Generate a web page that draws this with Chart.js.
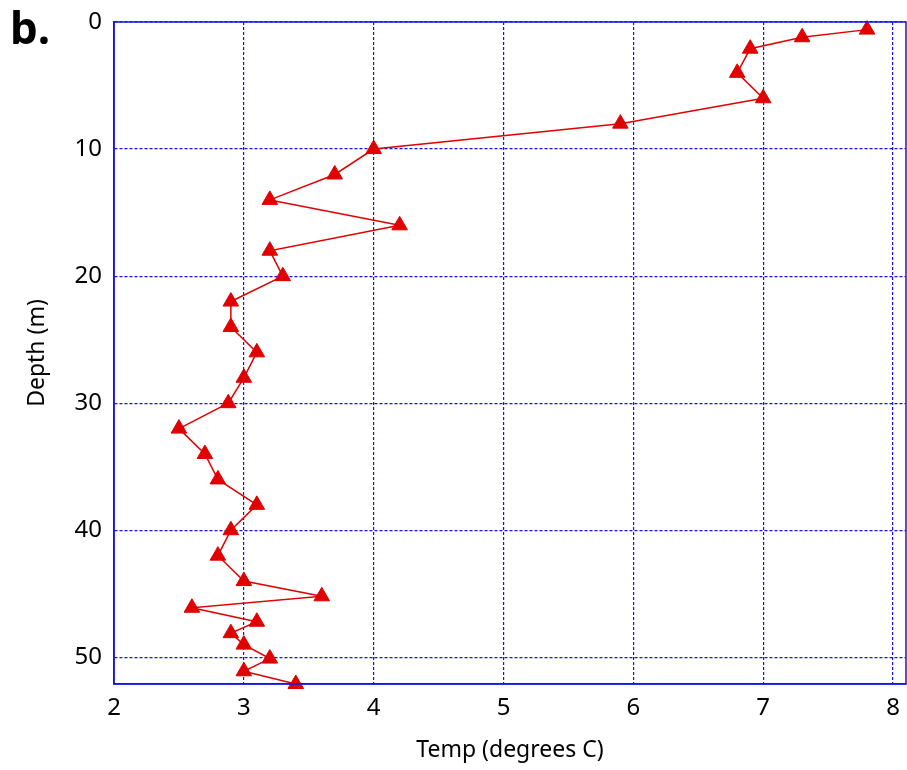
<!DOCTYPE html>
<html>
<head>
<meta charset="utf-8">
<script src="https://cdn.jsdelivr.net/npm/chart.js@4"></script>
<style>
  html, body { margin: 0; padding: 0; background: #fff; overflow: hidden; }
  #wrap { width: 907px; height: 770px; }
</style>
</head>
<body>
<div id="wrap"><canvas id="tempChart"></canvas></div>
<script>
// Temperature profile data
var temp_values = [7.8, 7.3, 6.9, 6.8, 7.0, 5.9, 4.0, 3.7, 3.2, 4.2, 3.2, 3.3, 2.9, 2.9, 3.1, 3.0,
                   2.88, 2.5, 2.7, 2.8, 3.1, 2.9, 2.8, 3.0, 3.6, 2.6, 3.1, 2.9, 3.0, 3.2, 3.0, 3.4];
var depth_values = [0.6, 1.2, 2.1, 4, 6, 8, 10, 12, 14, 16, 18, 20, 22, 24, 26, 28,
                    30, 32, 34, 36, 38, 40, 42, 44, 45.2, 46.1, 47.2, 48.1, 49, 50.1, 51.1, 52.1];
var x_ticks = [2, 3, 4, 5, 6, 7, 8];
var y_ticks = [0, 10, 20, 30, 40, 50];

var points = temp_values.map(function(t, i) { return { x: t, y: depth_values[i] }; });

var blue = '#1414e6';
var red = '#e00000';
var font = "'Noto Sans', sans-serif";

// Frame + panel letter
var framePlugin = {
    id: 'frame',
    afterDraw: function(chart) {
        var c = chart.ctx, a = chart.chartArea;
        c.save();
        c.strokeStyle = blue;
        c.lineWidth = 1.5;
        c.setLineDash([]);
        c.strokeRect(a.left, a.top, a.right - a.left, a.bottom - a.top);
        c.fillStyle = '#000';
        c.font = "bold 44px " + font;
        c.textBaseline = 'alphabetic';
        c.fillText('b.', 10, 44);
        c.restore();
    }
};

var ctx = document.getElementById("tempChart");
var myChart = new Chart(ctx, {
    type: 'scatter',
    data: {
        datasets: [{
            label: "Temp",
            data: points,
            showLine: true,
            clip: false,
            borderColor: red,
            borderWidth: 1.5,
            backgroundColor: red,
            pointStyle: 'triangle',
            pointRadius: 9,
            pointBorderWidth: 1,
            pointBackgroundColor: red,
            pointBorderColor: red
        }]
    },
    options: {
        responsive: true,
        maintainAspectRatio: false,
        animation: false,
        layout: { autoPadding: false, padding: { top: 22, right: 1, left: 0, bottom: 0 } },
        scales: {
            x: {
                type: 'linear',
                min: 2,
                max: 8.1,
                afterBuildTicks: function(axis) {
                    axis.ticks = x_ticks.map(function(v) { return { value: v }; });
                },
                afterFit: function(axis) {
                    axis.height = 86;
                    axis.paddingLeft = 0;
                    axis.paddingRight = 0;
                },
                grid: {
                    color: blue,
                    lineWidth: 1.2,
                    drawTicks: false
                },
                border: { display: true, color: blue, width: 1.5, dash: [3, 2] },
                ticks: {
                    color: '#000',
                    font: { family: font, size: 24 },
                    padding: 10,
                    maxRotation: 0
                },
                title: {
                    display: true,
                    text: 'Temp (degrees C)',
                    color: '#000',
                    font: { family: font, size: 23 },
                    padding: { top: 0, bottom: 6 }
                }
            },
            y: {
                type: 'linear',
                reverse: true,
                min: 0,
                max: 52.1,
                afterBuildTicks: function(axis) {
                    axis.ticks = y_ticks.map(function(v) { return { value: v }; });
                },
                afterFit: function(axis) {
                    axis.width = 114;
                    axis.paddingTop = 0;
                    axis.paddingBottom = 0;
                },
                grid: {
                    color: blue,
                    lineWidth: 1.2,
                    drawTicks: false
                },
                border: { display: true, color: blue, width: 1.5, dash: [3, 2] },
                ticks: {
                    color: '#000',
                    font: { family: font, size: 24 },
                    padding: 12
                },
                title: {
                    display: true,
                    text: 'Depth (m)',
                    color: '#000',
                    font: { family: font, size: 23 },
                    padding: { top: 24, bottom: 0 }
                }
            }
        },
        plugins: {
            legend: { display: false },
            tooltip: { enabled: false }
        }
    },
    plugins: [framePlugin]
});
</script>
</body>
</html>
